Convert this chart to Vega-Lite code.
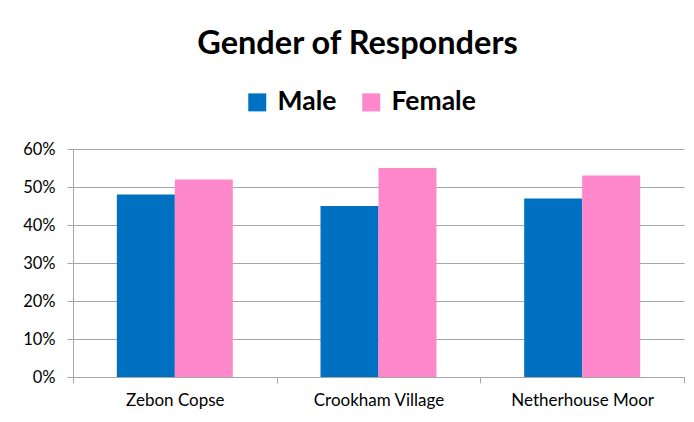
{
  "$schema": "https://vega.github.io/schema/vega-lite/v6.json",
  "width": 611,
  "height": 228,
  "autosize": {"type": "none"},
  "padding": {"left": 73, "top": 149, "right": 10, "bottom": 45},
  "background": "white",
  "title": {
    "text": "Gender of Responders",
    "font": "Lato",
    "fontSize": 32.5,
    "fontWeight": "bold",
    "color": "black",
    "anchor": "middle",
    "dx": -21,
    "offset": 29
  },
  "data": {
    "values": [
      {"place": "Zebon Copse", "gender": "Male", "share": 0.48},
      {"place": "Zebon Copse", "gender": "Female", "share": 0.52},
      {"place": "Crookham Village", "gender": "Male", "share": 0.45},
      {"place": "Crookham Village", "gender": "Female", "share": 0.55},
      {"place": "Netherhouse Moor", "gender": "Male", "share": 0.47},
      {"place": "Netherhouse Moor", "gender": "Female", "share": 0.53}
    ]
  },
  "mark": {"type": "bar"},
  "encoding": {
    "x": {
      "field": "place",
      "type": "nominal",
      "sort": ["Zebon Copse", "Crookham Village", "Netherhouse Moor"],
      "scale": {"paddingInner": 0, "paddingOuter": 0},
      "axis": {
        "title": null,
        "labelAngle": 0,
        "tickBand": "extent",
        "labelFont": "Lato",
        "labelFontSize": 17,
        "labelColor": "black",
        "labelPadding": 9,
        "domainColor": "#A6A6A6",
        "tickColor": "#A6A6A6",
        "tickSize": 6,
        "grid": false
      }
    },
    "xOffset": {
      "field": "gender",
      "type": "nominal",
      "sort": ["Male", "Female"],
      "scale": {"paddingInner": 0, "paddingOuter": 0.756}
    },
    "y": {
      "field": "share",
      "type": "quantitative",
      "scale": {"domain": [0, 0.6], "nice": false},
      "axis": {
        "title": null,
        "values": [0, 0.1, 0.2, 0.3, 0.4, 0.5, 0.6],
        "format": ".0%",
        "labelFont": "Lato",
        "labelFontSize": 16.5,
        "labelColor": "black",
        "labelPadding": 12,
        "domainColor": "#A6A6A6",
        "tickColor": "#A6A6A6",
        "tickSize": 6,
        "gridColor": "#A6A6A6",
        "gridWidth": 1
      }
    },
    "color": {
      "field": "gender",
      "type": "nominal",
      "sort": ["Male", "Female"],
      "scale": {"domain": ["Male", "Female"], "range": ["#0070C0", "#FF88CC"]},
      "legend": {
        "title": null,
        "orient": "none",
        "direction": "horizontal",
        "legendX": 171,
        "legendY": -60,
        "padding": 0,
        "symbolType": "square",
        "symbolSize": 324,
        "symbolStrokeWidth": 0,
        "labelFont": "Lato",
        "labelFontSize": 26.5,
        "labelFontWeight": "bold",
        "labelColor": "black",
        "labelOffset": 7,
        "columnPadding": 21
      }
    }
  },
  "config": {
    "view": {"stroke": null}
  }
}
